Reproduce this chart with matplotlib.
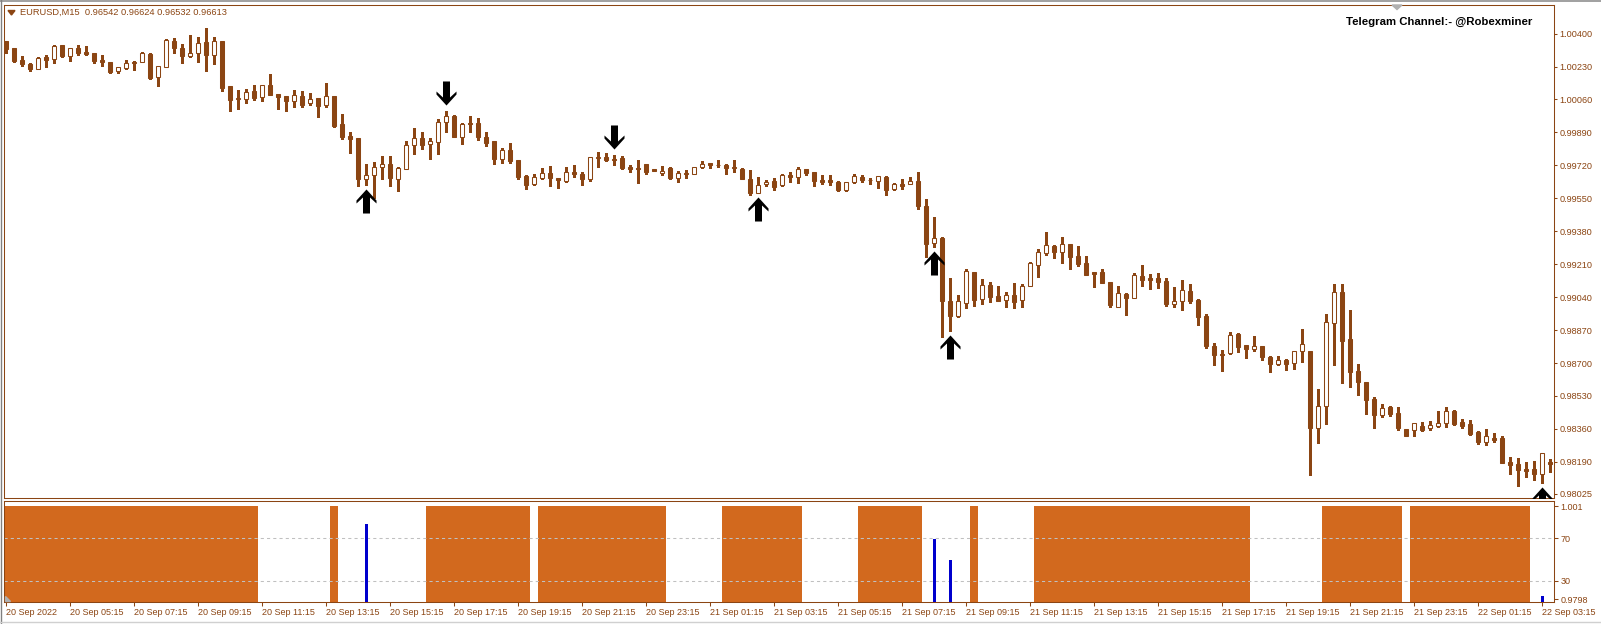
#!/usr/bin/env python
"""EURUSD M15 candlestick chart with arrow signals and a session histogram panel (MT4 style)."""

import numpy as np
import matplotlib
matplotlib.use("Agg")
import matplotlib.pyplot as plt
from matplotlib.path import Path
from matplotlib.transforms import offset_copy
from matplotlib.lines import Line2D
from matplotlib.patches import Polygon

plt.rcParams["font.family"] = ["Liberation Sans", "DejaVu Sans"]

#+++ Data
opens = [
    1.00363, 1.00326, 1.00264, 1.00243, 1.00215, 1.00279, 1.00267, 1.00341, 1.00283, 1.00324,
    1.00305, 1.00300, 1.00264, 1.00253, 1.00205, 1.00221, 1.00253, 1.00255, 1.00295, 1.00174,
    1.00229, 1.00362, 1.00326, 1.00283, 1.00298, 1.00356, 1.00291, 1.00362, 1.00129, 1.00064,
    1.00064, 1.00104, 1.00074, 1.00135, 1.00086, 1.00076, 1.00054, 1.00076, 1.00040, 1.00068,
    1.00033, 1.00078, 0.99932, 0.99871, 0.99861, 0.99651, 0.99669, 0.99710, 0.99725, 0.99648,
    0.99699, 0.99823, 0.99859, 0.99828, 0.99839, 0.99942, 0.99974, 0.99864, 0.99937, 0.99937,
    0.99864, 0.99844, 0.99754, 0.99797, 0.99746, 0.99665, 0.99622, 0.99653, 0.99679, 0.99653,
    0.99641, 0.99686, 0.99675, 0.99648, 0.99759, 0.99761, 0.99751, 0.99758, 0.99711, 0.99706,
    0.99727, 0.99699, 0.99680, 0.99704, 0.99653, 0.99682, 0.99675, 0.99711, 0.99732, 0.99720,
    0.99720, 0.99711, 0.99703, 0.99648, 0.99579, 0.99622, 0.99639, 0.99617, 0.99668, 0.99661,
    0.99701, 0.99685, 0.99644, 0.99644, 0.99634, 0.99592, 0.99635, 0.99658, 0.99642, 0.99641,
    0.99660, 0.99596, 0.99623, 0.99622, 0.99639, 0.99510, 0.99321, 0.99343, 0.99020, 0.98944,
    0.99011, 0.99169, 0.99028, 0.99101, 0.99045, 0.99027, 0.99051, 0.99023, 0.99099, 0.99207,
    0.99266, 0.99302, 0.99271, 0.99314, 0.99252, 0.99216, 0.99171, 0.99169, 0.99118, 0.98990,
    0.99057, 0.99033, 0.99149, 0.99137, 0.99137, 0.99123, 0.99006, 0.99021, 0.99071, 0.99025,
    0.98942, 0.98787, 0.98749, 0.98753, 0.98849, 0.98792, 0.98770, 0.98787, 0.98731, 0.98693,
    0.98715, 0.98698, 0.98760, 0.98761, 0.98366, 0.98476, 0.98909, 0.99064, 0.98823, 0.98658,
    0.98601, 0.98514, 0.98433, 0.98473, 0.98442, 0.98359, 0.98352, 0.98374, 0.98367, 0.98376,
    0.98388, 0.98452, 0.98395, 0.98385, 0.98344, 0.98290, 0.98314, 0.98313, 0.98190, 0.98178,
    0.98153, 0.98155, 0.98127, 0.98191,
]
highs = [
    1.00363, 1.00326, 1.00284, 1.00250, 1.00279, 1.00289, 1.00343, 1.00341, 1.00324, 1.00341,
    1.00336, 1.00300, 1.00289, 1.00253, 1.00226, 1.00262, 1.00257, 1.00305, 1.00300, 1.00231,
    1.00374, 1.00377, 1.00346, 1.00394, 1.00384, 1.00429, 1.00381, 1.00362, 1.00129, 1.00109,
    1.00112, 1.00133, 1.00133, 1.00191, 1.00086, 1.00076, 1.00109, 1.00104, 1.00092, 1.00068,
    1.00147, 1.00078, 0.99983, 0.99892, 0.99861, 0.99727, 0.99736, 0.99767, 0.99767, 0.99713,
    0.99847, 0.99911, 0.99890, 0.99859, 0.99961, 1.00000, 0.99980, 0.99940, 0.99974, 0.99962,
    0.99894, 0.99844, 0.99808, 0.99833, 0.99746, 0.99670, 0.99675, 0.99704, 0.99716, 0.99653,
    0.99713, 0.99722, 0.99687, 0.99761, 0.99790, 0.99785, 0.99773, 0.99768, 0.99722, 0.99750,
    0.99727, 0.99699, 0.99716, 0.99710, 0.99692, 0.99696, 0.99713, 0.99742, 0.99732, 0.99746,
    0.99725, 0.99750, 0.99704, 0.99696, 0.99658, 0.99644, 0.99653, 0.99675, 0.99687, 0.99713,
    0.99701, 0.99685, 0.99670, 0.99670, 0.99639, 0.99635, 0.99675, 0.99668, 0.99653, 0.99663,
    0.99663, 0.99630, 0.99651, 0.99658, 0.99685, 0.99544, 0.99451, 0.99352, 0.99137, 0.99051,
    0.99183, 0.99169, 0.99131, 0.99119, 0.99097, 0.99064, 0.99111, 0.99107, 0.99221, 0.99288,
    0.99374, 0.99307, 0.99348, 0.99314, 0.99303, 0.99252, 0.99171, 0.99183, 0.99119, 0.99097,
    0.99061, 0.99162, 0.99205, 0.99159, 0.99162, 0.99137, 0.99092, 0.99128, 0.99107, 0.99028,
    0.98952, 0.98801, 0.98767, 0.98860, 0.98853, 0.98792, 0.98839, 0.98787, 0.98734, 0.98734,
    0.98720, 0.98760, 0.98878, 0.98761, 0.98565, 0.98952, 0.99107, 0.99107, 0.98976, 0.98694,
    0.98601, 0.98524, 0.98491, 0.98478, 0.98473, 0.98359, 0.98388, 0.98395, 0.98400, 0.98452,
    0.98473, 0.98457, 0.98411, 0.98405, 0.98347, 0.98359, 0.98338, 0.98321, 0.98216, 0.98209,
    0.98189, 0.98194, 0.98238, 0.98205,
]
lows = [
    1.00301, 1.00255, 1.00234, 1.00209, 1.00215, 1.00226, 1.00250, 1.00281, 1.00260, 1.00288,
    1.00289, 1.00250, 1.00234, 1.00198, 1.00198, 1.00215, 1.00212, 1.00255, 1.00167, 1.00131,
    1.00226, 1.00301, 1.00250, 1.00277, 1.00253, 1.00209, 1.00241, 1.00102, 1.00002, 1.00013,
    1.00043, 1.00056, 1.00054, 1.00085, 1.00013, 1.00002, 1.00023, 1.00023, 1.00033, 0.99971,
    1.00023, 0.99920, 0.99854, 0.99785, 0.99615, 0.99619, 0.99550, 0.99648, 0.99615, 0.99589,
    0.99699, 0.99777, 0.99802, 0.99751, 0.99777, 0.99890, 0.99864, 0.99828, 0.99894, 0.99851,
    0.99821, 0.99725, 0.99730, 0.99730, 0.99651, 0.99600, 0.99617, 0.99651, 0.99615, 0.99601,
    0.99636, 0.99661, 0.99620, 0.99639, 0.99713, 0.99744, 0.99722, 0.99701, 0.99687, 0.99627,
    0.99673, 0.99689, 0.99670, 0.99648, 0.99636, 0.99653, 0.99673, 0.99706, 0.99708, 0.99713,
    0.99675, 0.99687, 0.99648, 0.99567, 0.99575, 0.99613, 0.99593, 0.99613, 0.99636, 0.99630,
    0.99668, 0.99615, 0.99623, 0.99618, 0.99587, 0.99589, 0.99630, 0.99635, 0.99623, 0.99604,
    0.99567, 0.99592, 0.99599, 0.99622, 0.99496, 0.99248, 0.99297, 0.98836, 0.98867, 0.98939,
    0.98985, 0.98996, 0.99006, 0.99015, 0.99020, 0.98990, 0.98982, 0.98990, 0.99099, 0.99145,
    0.99257, 0.99243, 0.99217, 0.99183, 0.99202, 0.99156, 0.99094, 0.99114, 0.98987, 0.98990,
    0.98947, 0.99033, 0.99099, 0.99080, 0.99085, 0.98996, 0.98990, 0.98973, 0.99008, 0.98898,
    0.98780, 0.98689, 0.98660, 0.98749, 0.98758, 0.98727, 0.98760, 0.98718, 0.98655, 0.98688,
    0.98665, 0.98670, 0.98706, 0.98123, 0.98288, 0.98387, 0.98691, 0.98598, 0.98577, 0.98534,
    0.98438, 0.98366, 0.98423, 0.98428, 0.98356, 0.98325, 0.98325, 0.98350, 0.98356, 0.98371,
    0.98371, 0.98381, 0.98366, 0.98330, 0.98283, 0.98278, 0.98290, 0.98185, 0.98127, 0.98067,
    0.98113, 0.98096, 0.98079, 0.98139,
]
closes = [
    1.00319, 1.00260, 1.00241, 1.00215, 1.00272, 1.00262, 1.00336, 1.00286, 1.00324, 1.00301,
    1.00296, 1.00260, 1.00255, 1.00203, 1.00226, 1.00246, 1.00246, 1.00298, 1.00172, 1.00231,
    1.00365, 1.00327, 1.00286, 1.00298, 1.00350, 1.00291, 1.00360, 1.00121, 1.00059, 1.00066,
    1.00100, 1.00068, 1.00133, 1.00085, 1.00074, 1.00054, 1.00081, 1.00033, 1.00064, 1.00028,
    1.00076, 0.99923, 0.99868, 0.99858, 0.99651, 0.99669, 0.99711, 0.99725, 0.99653, 0.99706,
    0.99825, 0.99859, 0.99823, 0.99844, 0.99942, 0.99974, 0.99868, 0.99931, 0.99931, 0.99864,
    0.99837, 0.99754, 0.99797, 0.99742, 0.99661, 0.99617, 0.99658, 0.99679, 0.99656, 0.99643,
    0.99684, 0.99673, 0.99651, 0.99761, 0.99761, 0.99749, 0.99750, 0.99704, 0.99703, 0.99699,
    0.99687, 0.99689, 0.99692, 0.99653, 0.99679, 0.99675, 0.99710, 0.99729, 0.99720, 0.99721,
    0.99708, 0.99704, 0.99648, 0.99579, 0.99620, 0.99634, 0.99610, 0.99668, 0.99658, 0.99699,
    0.99682, 0.99641, 0.99634, 0.99635, 0.99592, 0.99632, 0.99663, 0.99644, 0.99643, 0.99663,
    0.99592, 0.99623, 0.99615, 0.99637, 0.99510, 0.99314, 0.99343, 0.99021, 0.98944, 0.99018,
    0.99173, 0.99025, 0.99102, 0.99042, 0.99021, 0.99051, 0.99016, 0.99097, 0.99216, 0.99271,
    0.99307, 0.99272, 0.99312, 0.99248, 0.99211, 0.99156, 0.99161, 0.99114, 0.99000, 0.99059,
    0.99033, 0.99152, 0.99130, 0.99130, 0.99119, 0.99006, 0.99018, 0.99075, 0.99021, 0.98939,
    0.98787, 0.98743, 0.98742, 0.98842, 0.98784, 0.98770, 0.98786, 0.98732, 0.98693, 0.98713,
    0.98696, 0.98760, 0.98796, 0.98366, 0.98478, 0.98911, 0.99064, 0.98815, 0.98655, 0.98603,
    0.98510, 0.98433, 0.98466, 0.98438, 0.98366, 0.98325, 0.98388, 0.98356, 0.98380, 0.98390,
    0.98450, 0.98387, 0.98376, 0.98335, 0.98294, 0.98321, 0.98304, 0.98185, 0.98175, 0.98147,
    0.98144, 0.98126, 0.98234, 0.98179,
]

up_arrows = [45, 94, 116, 118, 192]     # bar index of the buy arrows (below the low)
down_arrows = [55, 76]                  # bar index of the sell arrows (above the high)

orange_runs = [(0, 31), (41, 41), (53, 65), (67, 82), (90, 99), (107, 114),
               (121, 121), (129, 155), (165, 174), (176, 190)]
orange_level = 100.0
blue_bars = [45, 116, 118, 192]
blue_vals = [83.4, 69.3, 50.0, 15.9]
levels = [70, 30]

price_ticks = [1.00400, 1.00230, 1.00060, 0.99890, 0.99720, 0.99550, 0.99380, 0.99210,
               0.99040, 0.98870, 0.98700, 0.98530, 0.98360, 0.98190, 0.98025]
sub_ticks = [100.0, 70, 30, 13.0]
sub_tick_labels = ["1.001", "70", "30", "0.9798"]
time_labels = [
    "20 Sep 2022", "20 Sep 05:15", "20 Sep 07:15", "20 Sep 09:15", "20 Sep 11:15",
    "20 Sep 13:15", "20 Sep 15:15", "20 Sep 17:15", "20 Sep 19:15", "20 Sep 21:15",
    "20 Sep 23:15", "21 Sep 01:15", "21 Sep 03:15", "21 Sep 05:15", "21 Sep 07:15",
    "21 Sep 09:15", "21 Sep 11:15", "21 Sep 13:15", "21 Sep 15:15", "21 Sep 17:15",
    "21 Sep 19:15", "21 Sep 21:15", "21 Sep 23:15", "22 Sep 01:15", "22 Sep 03:15",
]
header = "EURUSD,M15  0.96542 0.96624 0.96532 0.96613"
watermark = "Telegram Channel:- @Robexminer"
#---

#+++ Style
BROWN = "#8B4513"
ORANGE = "#D2691E"
BLUE = "#0000CD"
W, H = 1601, 624
LW = 0.75  # ~1 px at 100 dpi


def fx(px):
    return px / W


def fy(py):
    return 1 - py / H
#---

fig = plt.figure(figsize=(W / 100, H / 100), dpi=100, facecolor="white")
ax = fig.add_axes([fx(4), fy(497.7), fx(1554) - fx(4), fy(4.7) - fy(497.7)])
ax2 = fig.add_axes([fx(4), fy(601.5), fx(1554) - fx(4), fy(500.7) - fy(601.5)])

#+++ Candles
o, h, l, c = map(np.asarray, (opens, highs, lows, closes))
x = np.arange(len(o))
bull = c >= o
ax.vlines(x, l, h, color=BROWN, lw=LW, zorder=1, antialiased=False)
ax.bar(x, np.abs(c - o), bottom=np.minimum(o, c), width=0.55,
       color=np.where(bull, "white", BROWN), edgecolor=BROWN, linewidth=LW, zorder=2)

# Wingdings-like thick arrows, placed a few pixels off the bar's low / high
up_verts = [(0, 12), (10, 1), (10, -2), (3.5, 4), (3.5, -12), (-3.5, -12),
            (-3.5, 4), (-10, -2), (-10, 1), (0, 12)]
codes = [Path.MOVETO] + [Path.LINETO] * 8 + [Path.CLOSEPOLY]
up_path = Path(up_verts, codes)
down_path = Path([(vx, -vy) for vx, vy in up_verts], codes)
trans_up = offset_copy(ax.transData, fig=fig, x=0, y=-16, units="dots")
trans_dn = offset_copy(ax.transData, fig=fig, x=0, y=18, units="dots")
ax.plot(up_arrows, l[up_arrows], ls="none", marker=up_path, ms=17.3,
        mfc="black", mec="black", mew=0, transform=trans_up, zorder=5)
ax.plot(down_arrows, h[down_arrows], ls="none", marker=down_path, ms=17.3,
        mfc="black", mec="black", mew=0, transform=trans_dn, zorder=5)

ax.set_xlim(-0.25, 193.5)
ax.set_ylim(0.98005, 1.00549)
ax.yaxis.tick_right()
ax.set_yticks(price_ticks)
ax.set_yticklabels([f"{p:.5f}" for p in price_ticks])
ax.set_xticks([])
ax.tick_params(axis="y", direction="out", length=2.5, width=LW, color=BROWN,
               labelcolor=BROWN, labelsize=6.6, pad=1.5)
#---

#+++ Lower panel: session histogram + signal bars
orange = np.zeros(len(x))
for a, b in orange_runs:
    orange[a:b + 1] = orange_level
on = orange > 0
ax2.bar(x[on], orange[on], width=1.0, color=ORANGE, linewidth=0, zorder=1)
ax2.bar(blue_bars, blue_vals, width=0.375, color=BLUE, linewidth=0, zorder=3)
for lv in levels:
    ax2.axhline(lv, color="#C0C0C0", lw=LW, ls=(0, (3, 3)), zorder=2)

ax2.set_xlim(-0.25, 193.5)
ax2.set_ylim(10.8, 105.2)
ax2.yaxis.tick_right()
ax2.set_yticks(sub_ticks)
ax2.set_yticklabels(sub_tick_labels)
ax2.set_xticks(np.arange(0, 8 * len(time_labels), 8))
ax2.set_xticklabels(time_labels, ha="left")
ax2.tick_params(axis="both", direction="out", length=3, width=LW, color=BROWN,
                labelcolor=BROWN, labelsize=6.5, pad=1.5)
#---

for a in (ax, ax2):
    for s in a.spines.values():
        s.set_color(BROWN)
        s.set_linewidth(LW)

#+++ Texts and window chrome
fig.text(fx(20), fy(12.7), header, fontsize=6.7, color=BROWN, ha="left", va="center")
fig.add_artist(Polygon([(fx(8), fy(10.5)), (fx(15), fy(10.5)), (fx(11.5), fy(15))],
                       closed=True, color=BROWN, transform=fig.transFigure))
fig.text(fx(1532), fy(22.3), watermark, fontsize=8.2, fontweight="bold",
         color="black", ha="right", va="center")
fig.add_artist(Polygon([(fx(1392), fy(5)), (fx(1402), fy(5)), (fx(1397), fy(9.5))],
                       closed=True, color="#B0B0B0", transform=fig.transFigure))
fig.add_artist(Polygon([(fx(5), fy(596)), (fx(5), fy(601)), (fx(10), fy(601))],
                       closed=True, color="#B0B0B0", transform=fig.transFigure))
fig.add_artist(Line2D([0, 1], [fy(0.8), fy(0.8)], color="#A0A0A0", lw=1.4, transform=fig.transFigure))
fig.add_artist(Line2D([fx(0.6), fx(0.6)], [0, 1], color="#808080", lw=1.0, transform=fig.transFigure))
fig.add_artist(Line2D([0, 1], [fy(622), fy(622)], color="#D0D0D0", lw=1.0, transform=fig.transFigure))
#---

fig.savefig("out.png", dpi=100, facecolor="white")
